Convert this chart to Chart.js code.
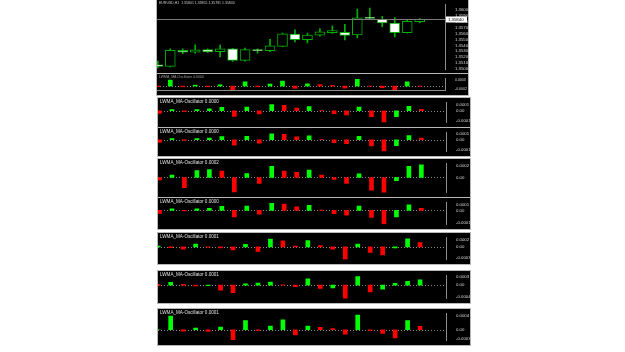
<!DOCTYPE html>
<html lang="en">
<head>
<meta charset="UTF-8" />
<title>LWMA_MA-Oscillator</title>
<script src="https://cdn.jsdelivr.net/npm/chart.js"></script>
<style>
  html, body { margin: 0; padding: 0; background: #fff; }
  body { width: 625px; height: 352px; position: relative; overflow: hidden; }
  canvas { position: absolute; display: block; box-shadow: 0 0 0 1px #b8b8b8; }
  #topFrame { position: absolute; left: 156px; top: 0; width: 312px; height: 95px; background: #000; }
</style>
</head>
<body>
<div id="topFrame"></div>
<canvas id="price" width="311" height="74" style="left:157px;top:0px"></canvas>
<canvas id="sub" width="311" height="21" style="left:157px;top:74px"></canvas>
<canvas id="p1" width="312" height="29" style="left:158px;top:98px"></canvas>
<canvas id="p2" width="312" height="28" style="left:158px;top:128px"></canvas>
<canvas id="p3" width="312" height="38" style="left:158px;top:159px"></canvas>
<canvas id="p4" width="312" height="31" style="left:158px;top:198px"></canvas>
<canvas id="p5" width="312" height="31" style="left:158px;top:233px"></canvas>
<canvas id="p6" width="312" height="32" style="left:158px;top:271px"></canvas>
<canvas id="p7" width="312" height="36" style="left:158px;top:309px"></canvas>

<script>
  // H1 candles
  const candleOpen  = [1.35070, 1.35045, 1.35318, 1.35284, 1.35328, 1.35294, 1.35343, 1.35145, 1.35328, 1.35309, 1.35384,
                       1.35593, 1.35497, 1.35572, 1.35616, 1.35622, 1.35578, 1.35876, 1.35840, 1.35776, 1.35616, 1.35801];
  const candleHigh  = [1.35134, 1.35343, 1.35343, 1.35407, 1.35343, 1.35403, 1.35348, 1.35354, 1.35343, 1.35503, 1.35607,
                       1.35661, 1.35607, 1.35682, 1.35731, 1.35757, 1.36015, 1.36030, 1.35891, 1.35870, 1.35831, 1.35855];
  const candleLow   = [1.35019, 1.35034, 1.35258, 1.35269, 1.35279, 1.35204, 1.35130, 1.35134, 1.35269, 1.35294, 1.35378,
                       1.35458, 1.35443, 1.35557, 1.35601, 1.35493, 1.35527, 1.35850, 1.35716, 1.35542, 1.35610, 1.35781];
  const candleClose = [1.35045, 1.35318, 1.35284, 1.35324, 1.35288, 1.35343, 1.35145, 1.35328, 1.35309, 1.35393, 1.35597,
                       1.35497, 1.35572, 1.35627, 1.35652, 1.35567, 1.35866, 1.35855, 1.35781, 1.35616, 1.35806, 1.35840];
  const priceTicks = [1.3500, 1.3510, 1.3520, 1.3530, 1.3540, 1.3550, 1.3560, 1.3570, 1.3580, 1.3590, 1.3600];
  const timeLabels = ['4 Dec 2013', '4 Dec 23:00', '5 Dec 02:00', '5 Dec 04:00', '5 Dec 07:00',
                      '5 Dec 09:00', '5 Dec 12:00', '5 Dec 14:00', '5 Dec 17:00', '5 Dec 19:00'];
  const timeTickPos = [0.05, 2.45, 4.85, 7.35, 9.75, 12.3, 14.7, 17.1, 19.6, 22.0];

  // oscillator histograms (value before the first bar decides its colour)
  const subOsc = [-0.7, 8, -1, 1.3, -1, 1.7, -6, 5.7, -1, 2.7, 6.7, -3, 3, 2, 1, -2.7, 9, -0.3, -2.3, -5.3, 5.7, -0.3];
  const subPrev = 0;
  const osc1 = [-4, 1.7, -1, 1.7, 2.7, 5, -8.3, 5.3, -4.7, 9, 8, 4, 6, 0.4, -4.3, -6, 5.3, -8.7, -16.7, -8.7, 6.7, 2.3];
  const osc2 = [-4, 1.7, -1, 1.7, 2.7, 4.7, -8, 5.3, -5, 8.7, 8, 4.3, 6, 0.4, -4.3, -5.7, 5.3, -9, -17, -8.7, 6.3, 2.7];
  const osc3 = [-3.3, 3.3, -13.3, 9, 10.3, 8.3, -19.5, 5, -7.7, 14.7, 8.3, 6.7, 9.7, 3.3, -2.7, -7.7, 4.7, -16.7, -20, -4.3, 14.7, 16.7];
  const osc4 = [-4.3, 2, -1, 2, 3, 5.7, -9.3, 6, -5.3, 10, 9, 5, 7, 0.4, -4.7, -6.7, 6, -10, -19.3, -9.3, 7.7, 3];
  const osc5 = [1.3, -1, -3.3, 4, -0.3, -1.3, -4.3, 3.7, -6.3, 11, 8.7, 1.3, 9, 2, -3, -17.7, 4, -7.7, -11.3, -1.3, 11.7, 6.3];
  const osc6 = [1, 3.7, 1, -1.3, -0.7, -7.3, -10.7, 1.7, 2.7, 4.3, 0.3, -2.3, 8.7, -4.7, -4, -19.7, 12, -9.7, -5.7, 2.3, 5.3, 7.3];
  const osc7 = [0, 18.3, -2, 2.3, -2.3, 3.7, -13.3, 12.3, -1, 5, 13.3, -7, 5, 3.3, 1.7, -6, 19.7, -1, -5, -11, 12.3, 4.7];
  const oscPrev = [-3, -3, -2, -3, 0, 2, -1];
  const oscTitles = ['LWMA_MA-Oscillator 0.0000', 'LWMA_MA-Oscillator 0.0000', 'LWMA_MA-Oscillator 0.0002',
                     'LWMA_MA-Oscillator 0.0000', 'LWMA_MA-Oscillator 0.0001', 'LWMA_MA-Oscillator 0.0001',
                     'LWMA_MA-Oscillator 0.0001'];
  const oscTickText = [['-0.0001', '0.00', '0.0001'], ['-0.0001', '0.00', '0.0001'], ['0.00', '0.0002'],
                       ['-0.0001', '0.00', '0.0001'], ['-0.0003', '0.00', '0.0002'], ['-0.0004', '0.00', '0.0003'],
                       ['-0.0003', '0.00', '0.0004']];

  const GREEN = '#00ff00', RED = '#ff0000', CANDLE = '#00b000';
  const BAR_STEP = 12.47;
  const FONT = 'Liberation Sans';

  function barColors(vals, prev) {
    return vals.map((v, i) => (v > (i ? vals[i - 1] : prev) ? GREEN : RED));
  }

  const decor = {
    id: 'decor',
    beforeDraw(chart) {
      const ctx = chart.ctx;
      ctx.save();
      ctx.fillStyle = '#000';
      ctx.fillRect(0, 0, chart.width, chart.height);
      ctx.restore();
    },
    beforeDatasetsDraw(chart, args, opts) {
      if (!opts.zero) return;
      const ctx = chart.ctx, a = chart.chartArea;
      const y = Math.round(chart.scales.y.getPixelForValue(0)) + 0.5;
      ctx.save();
      ctx.strokeStyle = '#8a8a8a';
      ctx.lineWidth = 1;
      ctx.setLineDash([1, 2]);
      ctx.beginPath();
      ctx.moveTo(a.left, y);
      ctx.lineTo(a.right + 3, y);
      ctx.stroke();
      ctx.restore();
    },
    afterDraw(chart, args, opts) {
      const ctx = chart.ctx, a = chart.chartArea;
      ctx.save();
      if (opts.title) {
        ctx.font = (opts.titleSize || 4.6) + 'px "' + FONT + '"';
        ctx.fillStyle = opts.titleColor || '#e0e0e0';
        ctx.textBaseline = 'middle';
        ctx.fillText(opts.title, a.left + 2, opts.titleY || 4);
      }
      if (opts.lastPrice) {
        const y = Math.round(chart.scales.y.getPixelForValue(opts.lastPrice)) + 0.5;
        ctx.strokeStyle = '#7a7a7a';
        ctx.lineWidth = 1;
        ctx.beginPath();
        ctx.moveTo(a.left, y);
        ctx.lineTo(a.right, y);
        ctx.stroke();
        ctx.fillStyle = '#fff';
        ctx.fillRect(a.right + 1, y - 3, 21, 6);
        ctx.fillStyle = '#000';
        ctx.font = '4.3px "' + FONT + '"';
        ctx.textBaseline = 'middle';
        ctx.fillText(opts.lastPrice.toFixed(5), a.right + 3, y);
      }
      ctx.restore();
    }
  };

  function yAxis(width, min, max, tickVals, tickText, size) {
    return {
      position: 'right', min: min, max: max,
      afterFit: s => { s.width = width; },
      afterBuildTicks: s => { s.ticks = tickVals.map(v => ({ value: v })); },
      grid: { display: false },
      border: { display: true, color: '#8c8c8c' },
      ticks: { font: { size: size || 4.3, family: FONT }, color: '#d8d8d8', padding: 2, autoSkip: false,
               callback: (v, i) => tickText[i] }
    };
  }

  function xAxis(min) {
    return { type: 'linear', offset: false, min: min, max: min + 288 / BAR_STEP, display: false };
  }

  const base = {
    responsive: false, animation: false, events: [],
    layout: { padding: 0, autoPadding: false },
  };

  // candles: bodies on top of wicks
  new Chart(document.getElementById('price'), {
    type: 'bar',
    data: {
      datasets: [
        {
          data: candleOpen.map((o, i) => ({ x: i, y: [o, candleClose[i]] })),
          backgroundColor: candleOpen.map((o, i) => (candleClose[i] >= o ? '#000' : '#fff')),
          borderColor: CANDLE, borderWidth: 1, borderSkipped: false, barThickness: 10, grouped: false
        },
        {
          data: candleLow.map((l, i) => ({ x: i, y: [l, candleHigh[i]] })),
          backgroundColor: CANDLE, barThickness: 1, grouped: false
        }
      ]
    },
    options: Object.assign({}, base, {
      plugins: {
        legend: { display: false }, tooltip: { enabled: false },
        decor: { title: 'EURUSD,H1  1.35801 1.35855 1.35781 1.35840', titleSize: 3.5, titleY: 3,
                 titleColor: '#c8c8c8', lastPrice: candleClose[candleClose.length - 1] }
      },
      scales: {
        x: xAxis(-0.064),
        y: yAxis(23, 1.34993, 1.36090, priceTicks, priceTicks.map(v => v.toFixed(5)))
      }
    }),
    plugins: [decor]
  });

  // oscillator under the price chart, with the time axis
  const subX = xAxis(-0.064);
  Object.assign(subX, {
    display: true, position: 'bottom',
    afterFit: s => { s.height = 5; },
    afterBuildTicks: s => { s.ticks = timeTickPos.map(v => ({ value: v })); },
    grid: { display: false }, border: { display: true, color: '#8c8c8c' },
    ticks: { font: { size: 3.5, family: FONT }, color: '#c0c0c0', padding: 0, align: 'start',
             maxRotation: 0, autoSkip: false, callback: (v, i) => timeLabels[i] }
  });
  new Chart(document.getElementById('sub'), {
    type: 'bar',
    data: { datasets: [{ data: subOsc.map((v, i) => ({ x: i, y: v })), backgroundColor: barColors(subOsc, subPrev), barThickness: 4 }] },
    options: Object.assign({}, base, {
      plugins: {
        legend: { display: false }, tooltip: { enabled: false },
        decor: { zero: true, title: 'LWMA_MA-Oscillator 0.0000', titleSize: 3.5, titleY: 3, titleColor: '#9a9a9a' }
      },
      scales: {
        x: subX,
        y: yAxis(23, -5.3, 10.7, [-4.3, 8.7], ['-0.0002', '0.0003'], 3.5)
      }
    }),
    plugins: [decor]
  });

  // the seven separate oscillator windows
  const panels = [
    { id: 'p1', vals: osc1, min: -17,   max: 12,   xMin: -0.12,  ticks: [-14, 0, 9] },
    { id: 'p2', vals: osc2, min: -17.3, max: 10.7, xMin: -0.12,  ticks: [-15, 0, 8.4] },
    { id: 'p3', vals: osc3, min: -19.7, max: 18.3, xMin: -0.12,  ticks: [0, 15.6] },
    { id: 'p4', vals: osc4, min: -20,   max: 11,   xMin: -0.12,  ticks: [-17.5, 0, 8.5] },
    { id: 'p5', vals: osc5, min: -17.7, max: 13.3, xMin: -0.016, ticks: [-15.5, 0, 10.6] },
    { id: 'p6', vals: osc6, min: -18.7, max: 13.3, xMin: -0.016, ticks: [-16.5, 0, 11] },
    { id: 'p7', vals: osc7, min: -14.3, max: 21.7, xMin: -0.016, ticks: [-12, 0, 19] }
  ];

  panels.forEach((p, k) => {
    new Chart(document.getElementById(p.id), {
      type: 'bar',
      data: { datasets: [{ data: p.vals.map((v, i) => ({ x: i, y: v })), backgroundColor: barColors(p.vals, oscPrev[k]), barThickness: 4 }] },
      options: Object.assign({}, base, {
        plugins: {
          legend: { display: false }, tooltip: { enabled: false },
          decor: { zero: true, title: oscTitles[k] }
        },
        scales: {
          x: xAxis(p.xMin),
          y: yAxis(24, p.min, p.max, p.ticks, oscTickText[k])
        }
      }),
      plugins: [decor]
    });
  });
</script>
</body>
</html>
